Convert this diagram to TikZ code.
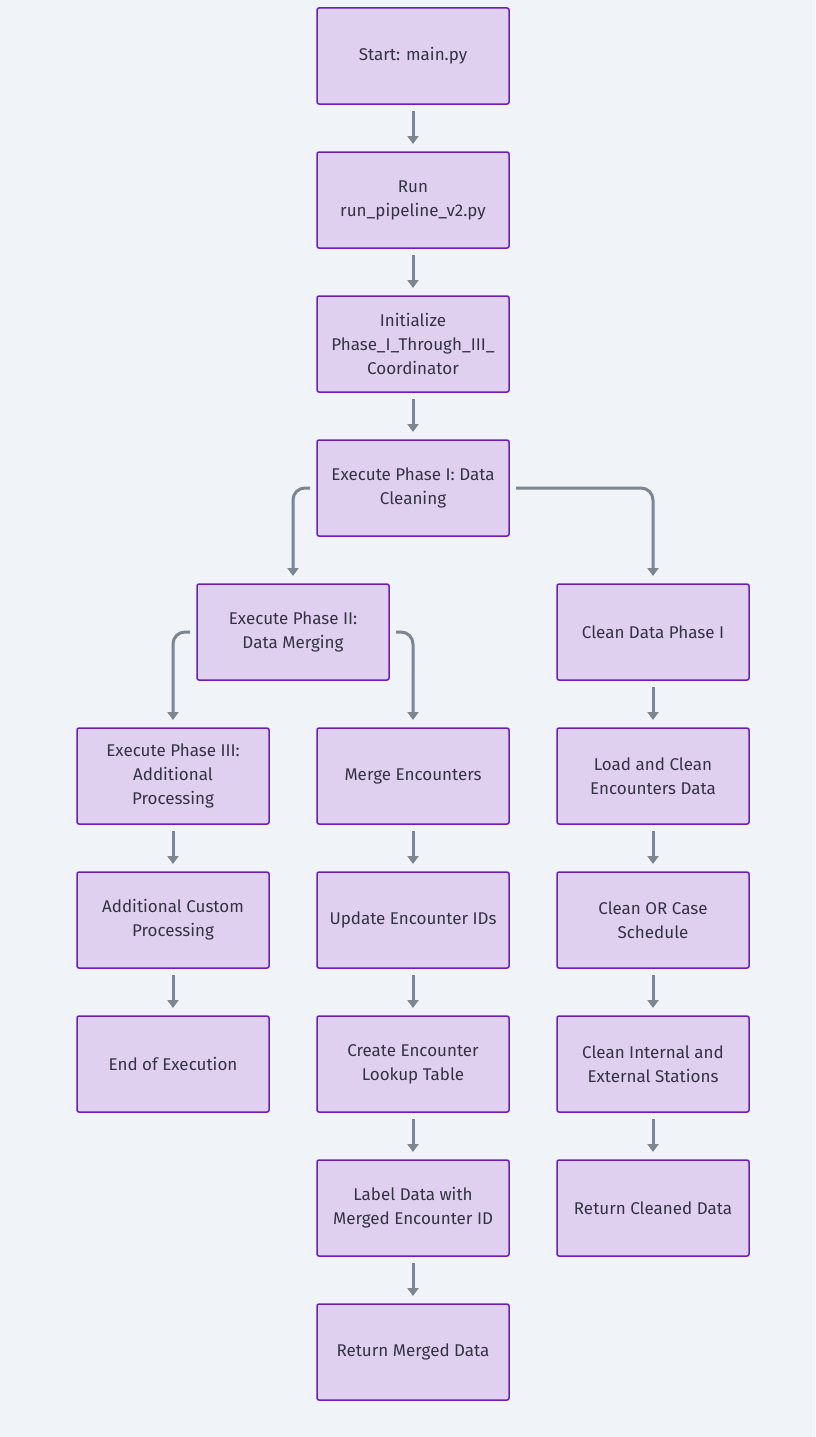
\documentclass[tikz,border=0pt]{standalone}
\usepackage{fontspec}
\setmainfont{Fira Sans}
\usepackage{xcolor}
\usepackage{tikz}
\usetikzlibrary{positioning,arrows.meta}

\definecolor{boxfill}{HTML}{E0D0F0}
\definecolor{boxline}{HTML}{6C1DC2}
\definecolor{arrowgray}{HTML}{7B8594}
\definecolor{bgcol}{HTML}{F0F3F7}
\definecolor{textcol}{HTML}{333344}

\begin{document}
\begin{tikzpicture}[
                x=1pt, y=-1pt,
                stepnode/.style={rectangle, rounded corners=2pt, draw=boxline, fill=boxfill, line width=1.5pt, outer sep=0pt, minimum width=192pt, minimum height=96pt, align=center, text=textcol, font=\fontsize{17}{24}\selectfont},
                arrow/.style={draw=arrowgray, line width=3pt, -{Triangle[length=8pt,width=11pt]}, shorten <=7pt, shorten >=8pt, rounded corners=12pt},
                node distance=48pt
                ]
                \useasboundingbox[fill=bgcol] (0,0) rectangle (815,1437);
                % main chain
                \node[stepnode] (start) at (413,56) {Start: main.py};
                \node[stepnode] (runPipeline) [below=of start] {Run\\run\_pipeline\_v2.py};
                \node[stepnode] (initCoord) [below=of runPipeline] {Initialize\\Phase\_I\_Through\_III\_\\Coordinator};
                \node[stepnode] (phaseOne) [below=of initCoord] {Execute Phase I: Data\\Cleaning};
                \node[stepnode] (phaseTwo) [below=of phaseOne, xshift=-120pt] {Execute Phase II:\\Data Merging};
                \node[stepnode] (cleanPhase) [below=of phaseOne, xshift=240pt] {Clean Data Phase I};
                % phase III branch
                \node[stepnode] (phaseThree) [below=of phaseTwo, xshift=-120pt] {Execute Phase III:\\Additional\\Processing};
                \node[stepnode] (customProc) [below=of phaseThree] {Additional Custom\\Processing};
                \node[stepnode] (endExec) [below=of customProc] {End of Execution};
                % merging branch
                \node[stepnode] (mergeEnc) [below=of phaseTwo, xshift=120pt] {Merge Encounters};
                \node[stepnode] (updateIds) [below=of mergeEnc] {Update Encounter IDs};
                \node[stepnode] (lookupTable) [below=of updateIds] {Create Encounter\\Lookup Table};
                \node[stepnode] (labelData) [below=of lookupTable] {Label Data with\\Merged Encounter ID};
                \node[stepnode] (returnMerged) [below=of labelData] {Return Merged Data};
                % cleaning branch
                \node[stepnode] (loadEnc) [below=of cleanPhase] {Load and Clean\\Encounters Data};
                \node[stepnode] (cleanOr) [below=of loadEnc] {Clean OR Case\\Schedule};
                \node[stepnode] (cleanStations) [below=of cleanOr] {Clean Internal and\\External Stations};
                \node[stepnode] (returnCleaned) [below=of cleanStations] {Return Cleaned Data};

                \draw[arrow] (start) -- (runPipeline);
                \draw[arrow] (runPipeline) -- (initCoord);
                \draw[arrow] (initCoord) -- (phaseOne);
                \draw[arrow] (phaseOne.west) -| (phaseTwo.north);
                \draw[arrow] (phaseOne.east) -| (cleanPhase.north);
                \draw[arrow] (phaseTwo.west) -| (phaseThree.north);
                \draw[arrow] (phaseTwo.east) -| (mergeEnc.north);
                \draw[arrow] (phaseThree) -- (customProc);
                \draw[arrow] (customProc) -- (endExec);
                \draw[arrow] (mergeEnc) -- (updateIds);
                \draw[arrow] (updateIds) -- (lookupTable);
                \draw[arrow] (lookupTable) -- (labelData);
                \draw[arrow] (labelData) -- (returnMerged);
                \draw[arrow] (cleanPhase) -- (loadEnc);
                \draw[arrow] (loadEnc) -- (cleanOr);
                \draw[arrow] (cleanOr) -- (cleanStations);
                \draw[arrow] (cleanStations) -- (returnCleaned);
            \end{tikzpicture}
\end{document}
